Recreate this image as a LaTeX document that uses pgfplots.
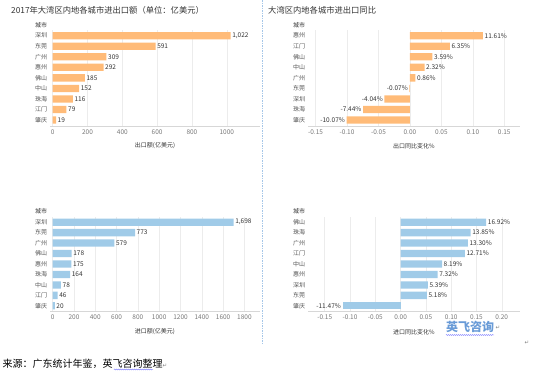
\documentclass[border=0pt]{standalone}
\usepackage{pgfplots}
\pgfplotsset{compat=1.18}
\usepackage{fontspec}
\setmainfont{Noto Sans CJK SC}
\newfontfamily\dv{DejaVu Sans}
\usetikzlibrary{decorations.pathmorphing}
\definecolor{barorange}{RGB}{255,187,120}
\definecolor{barblue}{RGB}{160,203,232}
\definecolor{txt}{RGB}{51,51,51}
\definecolor{lab}{RGB}{85,85,85}
\definecolor{tickc}{RGB}{120,120,120}
\definecolor{gridc}{RGB}{236,236,236}
\definecolor{axc}{RGB}{215,215,215}
\definecolor{sepc}{RGB}{165,198,232}
\definecolor{wm}{RGB}{105,155,215}
\pgfplotsset{
  panel/.style={
    scale only axis, width=210pt, height=96pt,
    ymin=-0.56, ymax=8.54,
    ytick={0,...,8},
    axis x line*=bottom, axis y line*=left,
    x axis line style={-, draw=axc, line width=0.6pt},
    y axis line style={draw=none},
    major tick length=0pt,
    xmajorgrids, major grid style={draw=gridc, line width=0.5pt},
    tick label style={font=\fontsize{6.5}{7}\selectfont},
    xticklabel style={text=tickc},
    yticklabel style={anchor=west, inner sep=0pt, xshift=-15pt, text=lab, font=\fontsize{6}{7}\selectfont},
    /pgf/number format/assume math mode=true,
    /pgf/number format/1000 sep={},
    xlabel style={at={(axis description cs:0.5,0)}, anchor=center, yshift=-20pt, font=\fontsize{6}{7}\selectfont, text=txt},
    clip=false,
  },
  pct/.style={xticklabel style={/pgf/number format/.cd, fixed, fixed zerofill, precision=2}},
  bars/.style={xbar, bar shift=0pt, bar width=7.3pt, draw=none, point meta=explicit symbolic, nodes near coords,
    every node near coord/.append style={font=\fontsize{6.5}{7}\selectfont, text=txt, inner sep=1.5pt}},
}
\begin{document}
\begin{tikzpicture}
\path[use as bounding box] (0,0) rectangle (550pt,-378pt);
% titles
\node[anchor=west, text=txt, font=\fontsize{8.3}{9}\selectfont, inner sep=0pt] at (11pt,-10pt) {2017年大湾区内地各城市进出口额（单位：亿美元）};
\node[anchor=west, text=txt, font=\fontsize{8.3}{9}\selectfont, inner sep=0pt] at (268pt,-10pt) {大湾区内地各城市进出口同比};
% headers
\foreach \hx/\hy in {35/25, 293/25, 35/211.7, 293/211.7}
  \node[anchor=west, text=txt, font=\fontsize{6}{7}\selectfont, inner sep=0pt] at (\hx pt,-\hy pt) {城市};

% Panel 1: export value
\begin{axis}[panel, at={(50pt,-126pt)}, anchor=south west,
  xmin=-15.5, xmax=1191, xtick={0,200,400,600,800,1000},
  yticklabels={肇庆,江门,珠海,中山,佛山,惠州,广州,东莞,深圳},
  xlabel={出口额(亿美元)}]
\addplot[bars, fill=barorange, nodes near coords style={anchor=west}] coordinates {
  (1022,8) [{1,022}] (591,7) [591] (309,6) [309] (292,5) [292] (185,4) [185]
  (152,3) [152] (116,2) [116] (79,1) [79] (19,0) [19]};
\end{axis}

% Panel 2: export yoy
\begin{axis}[panel, pct, width=212pt, at={(308pt,-126pt)}, anchor=south west,
  xmin=-0.162, xmax=0.175, xtick={-0.15,-0.10,-0.05,0,0.05,0.10,0.15},
  yticklabels={肇庆,珠海,深圳,东莞,广州,中山,佛山,江门,惠州},
  xlabel={出口同比变化\%}]
\addplot[bars, fill=barorange, nodes near coords style={anchor=west}] coordinates {
  (0.1161,8) [11.61\%] (0.0635,7) [6.35\%] (0.0359,6) [3.59\%] (0.0232,5) [2.32\%] (0.0086,4) [0.86\%]};
\addplot[bars, fill=barorange, nodes near coords style={anchor=east}] coordinates {
  (-0.0007,3) [-0.07\%] (-0.0404,2) [-4.04\%] (-0.0744,1) [-7.44\%] (-0.1007,0) [-10.07\%]};
\end{axis}

% Panel 3: import value
\begin{axis}[panel, height=95.2pt, at={(50pt,-311.7pt)}, anchor=south west,
  xmin=-25, xmax=1946, xtick={0,200,400,600,800,1000,1200,1400,1600,1800},
  yticklabels={肇庆,江门,中山,珠海,惠州,佛山,广州,东莞,深圳},
  xlabel={进口额(亿美元)}]
\addplot[bars, fill=barblue, nodes near coords style={anchor=west}] coordinates {
  (1698,8) [{1,698}] (773,7) [773] (579,6) [579] (178,5) [178] (175,4) [175]
  (164,3) [164] (78,2) [78] (46,1) [46] (20,0) [20]};
\end{axis}

% Panel 4: import yoy
\begin{axis}[panel, pct, width=212pt, height=95.2pt, at={(308pt,-311.7pt)}, anchor=south west,
  xmin=-0.183, xmax=0.236, xtick={-0.15,-0.10,-0.05,0,0.05,0.10,0.15,0.20},
  yticklabels={肇庆,东莞,深圳,惠州,中山,江门,广州,珠海,佛山},
  xlabel={进口同比变化\%}]
\addplot[bars, fill=barblue, nodes near coords style={anchor=west}] coordinates {
  (0.1692,8) [16.92\%] (0.1385,7) [13.85\%] (0.1330,6) [13.30\%] (0.1271,5) [12.71\%]
  (0.0819,4) [8.19\%] (0.0732,3) [7.32\%] (0.0539,2) [5.39\%] (0.0518,1) [5.18\%]};
\addplot[bars, fill=barblue, nodes near coords style={anchor=east}] coordinates {
  (-0.1147,0) [-11.47\%]};
\end{axis}

% separator
\draw[sepc, line width=1pt, dash pattern=on 1.5pt off 1pt] (262.7pt,0pt) -- (262.7pt,-345pt);
% watermark
\node[text=wm, font=\fontsize{12}{13}\selectfont\bfseries, inner sep=0pt] at (470pt,-327pt) {英飞咨询};
\draw[blue!55, line width=0.4pt, decorate, decoration={snake, amplitude=0.5pt, segment length=2pt}] (446pt,-335pt) -- (494pt,-335pt);
\node[text=gray, font=\dv\fontsize{5.5}{6}\selectfont, inner sep=0pt] at (498pt,-328pt) {↵};
\node[text=gray, font=\dv\fontsize{5.5}{6}\selectfont, inner sep=0pt] at (527pt,-343pt) {↵};
% source
\node[anchor=west, text=black, font=\fontsize{10}{11}\selectfont, inner sep=0pt] at (2.5pt,-364pt) {来源：广东统计年鉴，英飞咨询整理{\dv\fontsize{5.5}{6}\selectfont\color{gray}↵}};
\draw[blue!55, line width=0.4pt, decorate, decoration={snake, amplitude=0.5pt, segment length=2pt}] (114pt,-369.5pt) -- (153pt,-369.5pt);
\end{tikzpicture}
\end{document}
